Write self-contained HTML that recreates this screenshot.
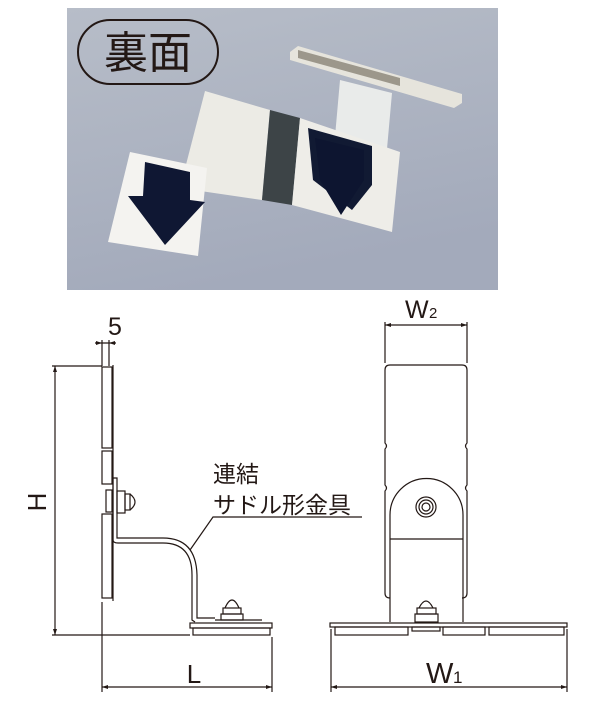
<!DOCTYPE html>
<html><head><meta charset="utf-8"><style>
html,body{margin:0;padding:0;background:#fff;width:600px;height:712px;overflow:hidden}
svg{display:block}
text{font-family:"Liberation Sans","Noto Sans CJK JP",sans-serif;fill:#231815}
</style></head><body>
<svg width="600" height="712" viewBox="0 0 600 712" xmlns="http://www.w3.org/2000/svg">
<defs>
<linearGradient id="bg" x1="0" y1="0" x2="0.3" y2="1">
<stop offset="0" stop-color="#b7bdc8"/><stop offset="1" stop-color="#a3aabb"/>
</linearGradient>
</defs>
<!-- photo -->
<rect x="67" y="8" width="431" height="282" fill="url(#bg)"/>
<polygon points="290,52 298,46 462,94 462,103 454,108 290,60" fill="#e6e4dc"/>
<polygon points="298,50 400,78 400,86 298,58" fill="#9c978b"/>
<polygon points="340,80 392,93 386,160 334,148" fill="#e9ebea"/>
<polygon points="205,91 270,110 262,200 180,188" fill="#ecebe5"/>
<polygon points="270,110 300,118 292,205 262,200" fill="#3d4447"/>
<polygon points="300,118 400,152 392,232 292,205" fill="#eeede8"/>
<polygon points="308,128 372,146 372,185 352,210 313,180" fill="#111a33"/>
<polygon points="315,138 364,150 364,180 341,215 320,180" fill="#0d1530"/>
<polygon points="130,152 207,168 198,256 108,242" fill="#f4f3f0"/>
<polygon points="145,162 190,172 190,200 205,202 165,245 128,196 143,196" fill="#0f1733"/>
<rect x="78" y="20" width="140" height="64" rx="32" fill="none" stroke="#231815" stroke-width="2"/>
<text x="148" y="68" font-size="44" text-anchor="middle">裏面</text>

<g fill="none" stroke="#231815" stroke-width="1.2">
<line x1="95" y1="343" x2="116" y2="343"/>
<line x1="102" y1="340" x2="102" y2="366"/>
<line x1="109" y1="340" x2="109" y2="366"/>
<line x1="52" y1="366" x2="102" y2="366"/>
<line x1="52" y1="635" x2="190" y2="635"/>
<line x1="55" y1="366" x2="55" y2="635"/>
<line x1="113" y1="365" x2="113" y2="601"/>
<rect x="102" y="367" width="10" height="81"/>
<rect x="102" y="451" width="10" height="33"/>
<rect x="102" y="514" width="10" height="84"/>
<rect x="106" y="490" width="6" height="22"/>
<path d="M113,478 L117,478 L117,538 L163,538 Q196,538 197,575 L197,618 L215,618"/>
<path d="M113,478 L113,540 Q113,543 118,543 L163,543 Q192,543 192,575 L192,620 L195,622"/>
<rect x="117" y="491" width="8" height="22"/>
<rect x="125" y="494" width="5" height="16"/>
<path d="M130,494 Q140,502 130,510"/>
<rect x="190" y="623" width="82" height="5"/>
<rect x="193" y="628" width="77" height="7"/>
<line x1="215" y1="620" x2="262" y2="620"/>
<rect x="221" y="614" width="22" height="6"/>
<rect x="223" y="608" width="18" height="6"/>
<path d="M225,608 Q232,592 239,608"/>
<polyline points="190,550 213,517 362,517"/>
<line x1="102" y1="602" x2="102" y2="692"/>
<line x1="272" y1="637" x2="272" y2="692"/>
<line x1="102" y1="687" x2="272" y2="687"/>

<line x1="385" y1="325" x2="467" y2="325"/>
<line x1="385" y1="322" x2="385" y2="363"/>
<line x1="467" y1="322" x2="467" y2="363"/>
<path d="M390,365 L462,365 Q467,365 467,370 L467,443 Q464,446 467,449 L467,485 Q464,488 467,491 L467,593 Q467,598 462,598 M390,365 Q385,365 385,370 L385,443 Q388,446 385,449 L385,485 Q388,488 385,491 L385,593 Q385,598 390,598"/>
<path d="M390,622 L390,515 A36,36 0 0 1 463,515 L463,622"/>
<line x1="390" y1="539" x2="463" y2="539"/>
<circle cx="426" cy="507" r="10"/>
<circle cx="426" cy="507" r="7"/>
<circle cx="426" cy="507" r="4"/>
<rect x="415" y="614" width="23" height="8"/>
<rect x="417" y="608" width="19" height="6"/>
<path d="M419,608 Q426,594 433,608"/>
<rect x="330" y="623" width="237" height="4"/>
<rect x="335" y="627" width="73" height="8"/>
<rect x="412" y="627" width="28" height="4"/>
<rect x="443" y="627" width="42" height="8"/>
<rect x="489" y="627" width="75" height="8"/>
<line x1="331" y1="629" x2="331" y2="692"/>
<line x1="567" y1="629" x2="567" y2="692"/>
<line x1="331" y1="687" x2="567" y2="687"/>
</g>
<g fill="#231815">
<polygon points="102,343 96,341 96,345"/><polygon points="109,343 115,341 115,345"/>
<polygon points="55,366 53,372 57,372"/><polygon points="55,635 53,629 57,629"/>
<polygon points="102,687 108,685 108,689"/><polygon points="272,687 266,685 266,689"/>
<polygon points="385,325 391,323 391,327"/><polygon points="467,325 461,323 461,327"/>
<polygon points="331,687 337,685 337,689"/><polygon points="567,687 561,685 561,689"/>
</g>
<text x="115" y="335" font-size="25" text-anchor="middle">5</text>
<text x="37" y="511" font-size="26" text-anchor="middle" transform="rotate(-90 37 502)">H</text>
<text x="213" y="482" font-size="23">連結</text>
<text x="213" y="513" font-size="23">サドル形金具</text>
<text x="194" y="683" font-size="26" text-anchor="middle">L</text>
<text x="405" y="318" font-size="25">W</text><text x="429" y="318" font-size="15">2</text>
<text x="426" y="683" font-size="29">W</text><text x="453" y="683" font-size="17">1</text>
</svg>
</body></html>
